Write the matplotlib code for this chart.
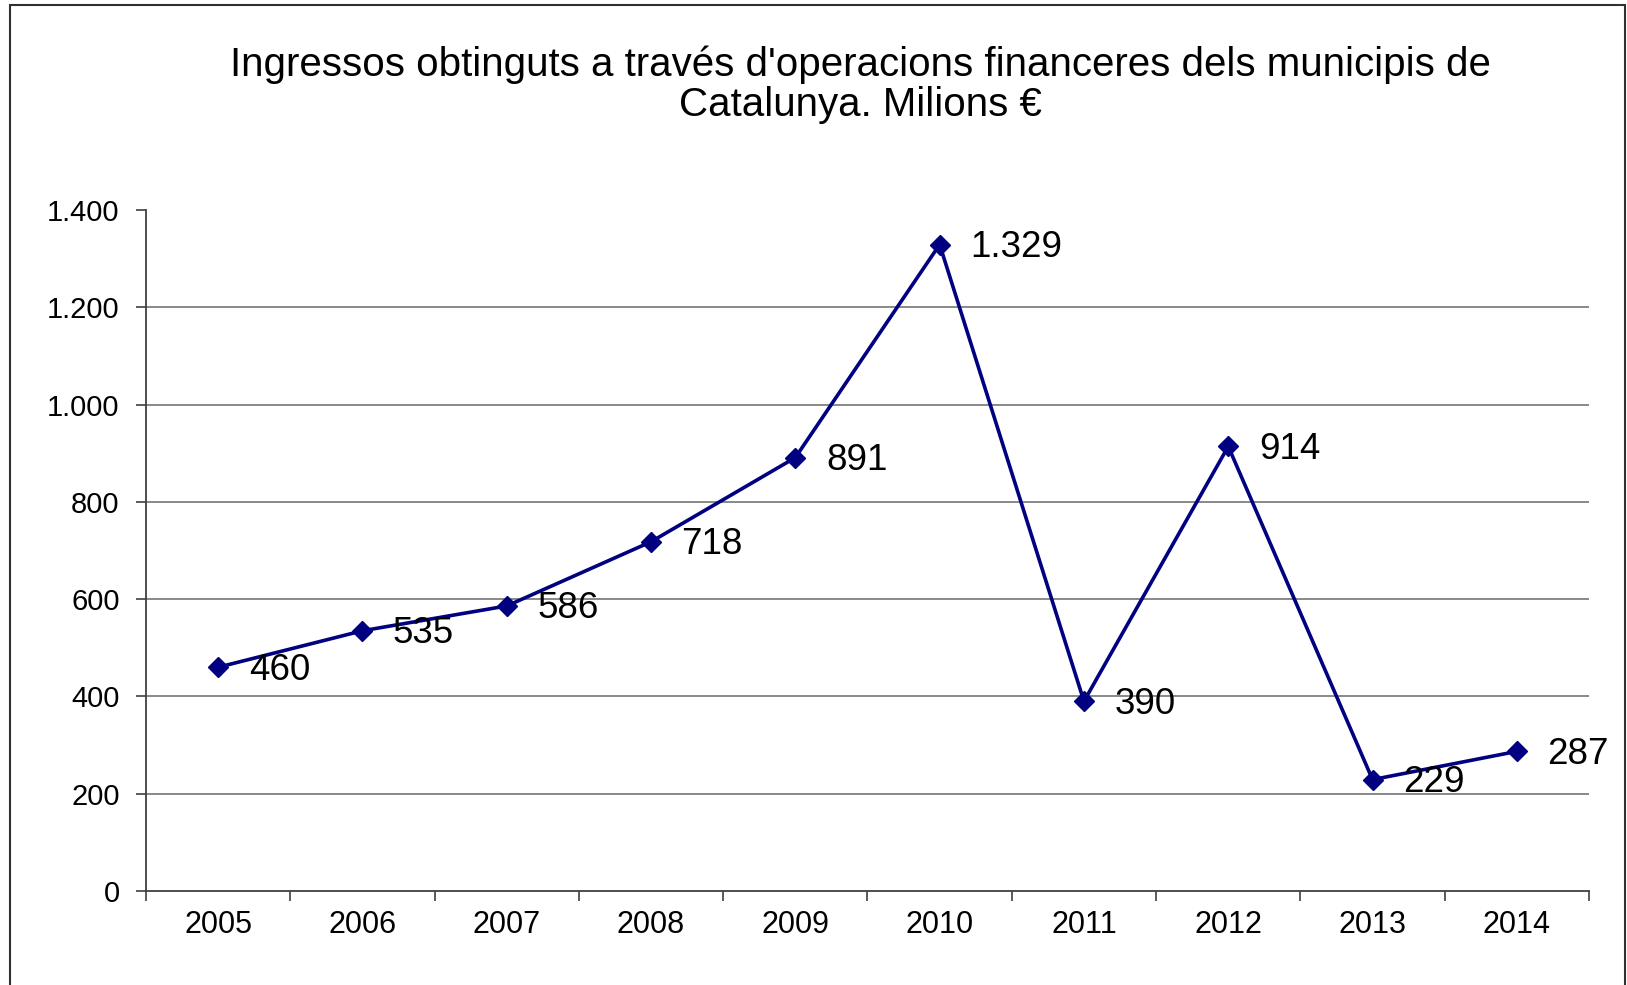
import numpy as np
import matplotlib
matplotlib.use("Agg")
import matplotlib.pyplot as plt
from matplotlib.patches import Rectangle
from matplotlib.ticker import FuncFormatter

plt.rcParams['font.family'] = ['Liberation Sans', 'DejaVu Sans']

years = ['2005', '2006', '2007', '2008', '2009', '2010', '2011', '2012', '2013', '2014']
values = [460, 535, 586, 718, 891, 1329, 390, 914, 229, 287]
yticks = [0, 200, 400, 600, 800, 1000, 1200, 1400]

title = "Ingressos obtinguts a través d'operacions financeres dels municipis de\nCatalunya. Milions €"


def fmt_thousands(v, pos=None):
    # catalan style: dot as thousands separator
    return f"{int(round(v)):,}".replace(",", ".")


fig = plt.figure(figsize=(16.27, 9.85), dpi=100)
ax = fig.add_axes([146 / 1627, 1 - 891 / 985, (1589 - 146) / 1627, (891 - 210) / 985])

x = np.arange(len(years))
ax.plot(x, values, color='#000080', lw=2.6, marker='D', markersize=10,
        markerfacecolor='#000080', markeredgecolor='#000080', zorder=3)

for xi, v in zip(x, values):
    ax.annotate(fmt_thousands(v), (xi, v), xytext=(22, -2), textcoords='offset points',
                ha='left', va='center', fontsize=26.5, color='black')

ax.set_xlim(-0.5, len(years) - 0.5)
ax.set_ylim(0, 1400)
ax.set_yticks(yticks)
ax.yaxis.set_major_formatter(FuncFormatter(fmt_thousands))
ax.set_xticks(x)
ax.set_xticklabels(years)
ax.set_xticks(np.arange(-0.5, len(years)), minor=True)
ax.tick_params(axis='x', which='major', length=0, pad=14, labelsize=22)
ax.tick_params(axis='x', which='minor', length=7, width=1.2, color='#404040')
ax.tick_params(axis='y', length=7, width=1.2, color='#404040', pad=12, labelsize=21)

for yv in yticks[1:-1]:
    ax.axhline(yv, color='#808080', lw=1.3, zorder=1)

for s in ['top', 'right']:
    ax.spines[s].set_visible(False)
for s in ['left', 'bottom']:
    ax.spines[s].set_color('#404040')
    ax.spines[s].set_linewidth(1.3)

fig.text(860 / 1627, 1 - 116 / 985, title, ha='center', va='baseline', fontsize=29,
         linespacing=1.05)

fig.patches.append(Rectangle((10 / 1627, -0.05), (1625 - 10) / 1627, 1.05 - 5 / 985,
                             transform=fig.transFigure, fill=False, edgecolor='#303030',
                             lw=1.5, clip_on=False))

fig.savefig('out.png', dpi=100)
